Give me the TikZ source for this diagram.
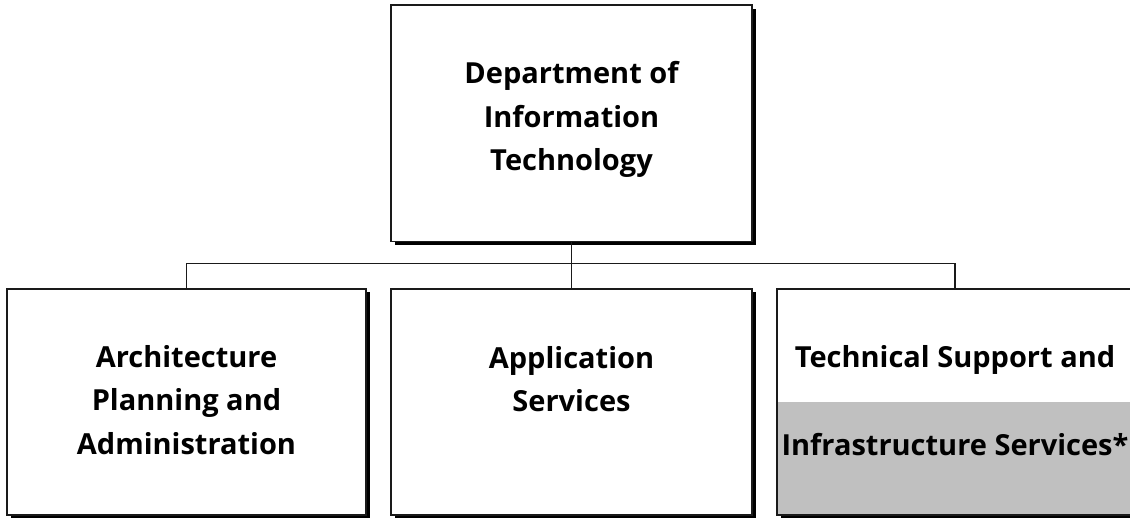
\documentclass[tikz,border=0pt]{standalone}
\usepackage{fontspec}
\setmainfont{Open Sans}[Ligatures={NoCommon}]
\usetikzlibrary{shadows}
\definecolor{band}{HTML}{C0C0C0}
\definecolor{edge}{HTML}{1A1A1A}
\begin{document}
\begin{tikzpicture}[x=1pt,y=-1pt,
  orgbox/.style={draw=edge, line width=1.2pt, fill=white, inner sep=0pt, rectangle,
    drop shadow={shadow xshift=3.5pt, shadow yshift=-3.5pt, opacity=1, fill=black}},
  lbl/.style={font=\fontsize{29}{43.5}\selectfont\bfseries, align=center, inner sep=0pt, anchor=base},
  conn/.style={draw=edge, line width=1.2pt}]
\useasboundingbox (0,0) rectangle (1130,518);
\begin{scope}
\clip (0,0) rectangle (1130,518);
\coordinate (hub) at (571.5,263.5);
\node[orgbox, minimum width=361pt, minimum height=236.5pt] (dept) at (571.5,123.3) {};
\node[orgbox, minimum width=359pt, minimum height=226pt] (arch) at (186.5,402) {};
\node[orgbox, minimum width=361pt, minimum height=226pt] (apps) at (571.5,402) {};
\node[orgbox, minimum width=356pt, minimum height=226pt,
  path picture={\fill[band] ([yshift=113pt]path picture bounding box.south west) rectangle (path picture bounding box.south east);}] (tech) at (955,402) {};
\draw[conn] (dept.south) -- (hub);
\draw[conn] (hub) -- (apps.north);
\draw[conn] (arch.north) |- (hub) -| (tech.north);
\node[lbl] (deptlbl) at (571.5,171) {Department of\\Information\\Technology};
\node[lbl] (archlbl) at (186.5,454) {Architecture\\Planning and\\Administration};
\node[lbl] (appslbl) at (571.5,412) {Application\\Services};
\node[lbl] (techlbl) at (955,368) {Technical Support and};
\node[lbl] (infralbl) at (955,455) {Infrastructure Services*};
\end{scope}
\end{tikzpicture}
\end{document}
